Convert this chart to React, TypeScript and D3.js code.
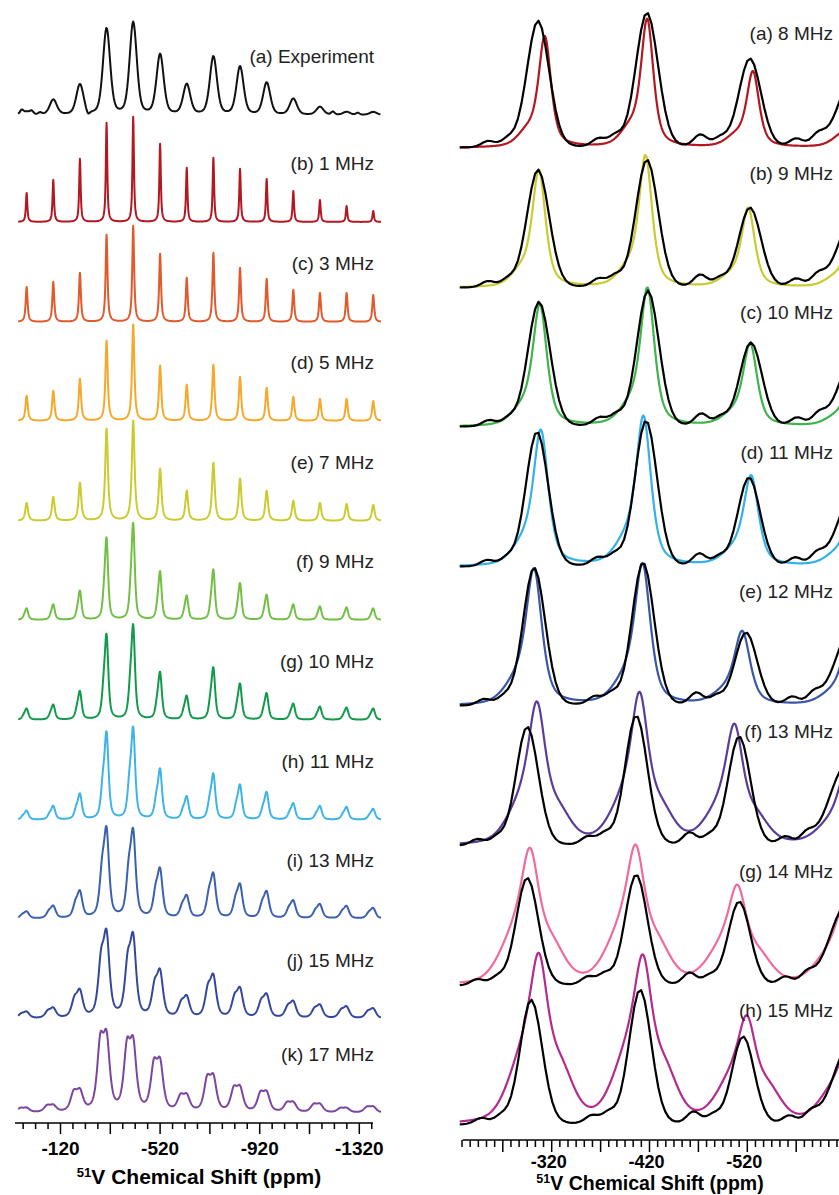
import React from "react";
import * as d3 from "d3";

// ---------------- LEFT PANEL DATA ----------------
const leftPeakPpm = [16, -91, -198, -305, -412, -520, -627, -734, -841, -948, -1055, -1162, -1269, -1376];
const leftNames = ["(a) Experiment", "(b) 1 MHz", "(c) 3 MHz", "(d) 5 MHz", "(e) 7 MHz", "(f) 9 MHz", "(g) 10 MHz", "(h) 11 MHz", "(i) 13 MHz", "(j) 15 MHz", "(k) 17 MHz"];
const expIntensity = [3, 15, 30, 86, 92, 60, 30, 58, 48, 32, 16, 8, 3, 3];
const expExtraPpm = [36, -4, -38, -230, -1214, -1314];
const expExtraIntensity = [4, 3, 2, -4, 3, 2];
const sim1 = [29, 42, 63, 99, 105, 78, 54, 64, 53, 43, 31, 22, 16, 11];
const sim3 = [35, 40, 49, 87, 96, 68, 44, 69, 54, 43, 32, 29, 29, 27];
const sim5 = [25, 30, 42, 80, 96, 55, 36, 56, 44, 33, 24, 22, 22, 20];
const sim7 = [18, 24, 38, 92, 100, 52, 30, 58, 42, 30, 20, 18, 17, 16];
const sim9 = [12, 16, 30, 85, 100, 50, 25, 52, 38, 26, 16, 14, 13, 12];
const sim10 = [12, 16, 30, 90, 100, 50, 25, 55, 38, 28, 17, 14, 13, 12];
const sim11 = [10, 15, 28, 95, 100, 55, 25, 50, 38, 30, 18, 15, 14, 12];
const sim13 = [8, 14, 30, 100, 98, 55, 25, 50, 38, 30, 20, 16, 14, 12];
const sim15 = [8, 12, 32, 100, 96, 55, 25, 50, 35, 28, 20, 16, 14, 12];
const sim17 = [6, 9, 27, 98, 90, 65, 21, 46, 32, 26, 13, 11, 6, 8];
const leftSims = [sim1, sim3, sim5, sim7, sim9, sim10, sim11, sim13, sim15, sim17];
const leftFwhmPpm = [34, 7, 9, 11, 13, 15, 17, 19, 24, 28, 30];
const leftShoulderOffsetPpm = [0, 0, 0, 0, 0, 10, 12, 15, 18, 22, 25];
const leftShoulderRatio = [0, 0, 0, 0, 0, 0.2, 0.25, 0.3, 0.4, 0.5, 0.65];
const leftTickLabels = [-120, -520, -920, -1320];

// ---------------- RIGHT PANEL DATA ----------------
const rightNames = ["(a) 8 MHz", "(b) 9 MHz", "(c) 10 MHz", "(d) 11 MHz", "(e) 12 MHz", "(f) 13 MHz", "(g) 14 MHz", "(h) 15 MHz"];
const rightSimPpm = [
  [-313, -417.7, -525.8, -634],
  [-307, -416, -521, -628],
  [-308, -418, -523, -630],
  [-309, -414, -524, -630],
  [-302, -413, -515, -625],
  [-305, -410, -507, -622],
  [-298, -406, -510, -620],
  [-307, -413.4, -519.7, -625],
];
const rightSimIntensity = [
  [117, 135, 80, 75],
  [123, 138, 83, 70],
  [127, 144, 86, 70],
  [140, 154, 93, 75],
  [139, 144, 75, 70],
  [131, 139, 110, 70],
  [116, 118, 84, 70],
  [140, 138, 88, 70],
];
const rightSimFwhmPpm = [15, 16, 17, 18, 19, 21, 22, 22];
const rightSimShoulderRatio = [0.12, 0.12, 0.12, 0.14, 0.15, 0.25, 0.35, 0.4];
const rightExpShiftPpm = [0, 0, -1, 1, 4, 11, 11, 7];
const rightExpIntensity = [
  [127, 135, 89, 80],
  [118, 128, 80, 80],
  [125, 136, 84, 80],
  [135, 146, 89, 80],
  [138, 143, 73, 80],
  [119, 130, 109, 80],
  [108, 111, 84, 80],
  [125, 135, 88, 80],
];
const expPeakPpm = [-306, -417.4, -522.7, -632];
const expBumpPpm = [-255, -275, -368, -385, -472, -492, -570, -592];
const expBumpIntensity = [6, 7, 8, 10, 12, 8, 8, 10];
const rightTickLabels = [-320, -420, -520];

// ---------------- STYLE / LAYOUT ----------------
const leftColors = ["#111111", "#b3171f", "#e05a2b", "#f5a82a", "#c9cb2f", "#72bf45", "#119a4b", "#3cb4e6", "#3a60b0", "#33479b", "#7c45a0"];
const rightColors = ["#b3171f", "#c9cb2f", "#3db54a", "#32b2e8", "#3a57a8", "#5a3d9a", "#f06aa0", "#b42a8f"];
const leftBase = [115, 222, 322, 421, 521, 620, 720, 820, 919, 1019, 1113];
const rightBase = [148, 288, 427, 567, 706, 846, 986, 1125];
const FONT = "'Liberation Sans', Arial, Helvetica, sans-serif";

function pv(x: number, c: number, w: number, eta: number) {
  const t = (x - c) / (w / 2);
  return eta / (1 + t * t) + (1 - eta) * Math.exp(-Math.LN2 * t * t);
}
type Comp = [number, number, number, number];
function spectrum(grid: number[], comps: Comp[]): [number, number][] {
  return grid.map((p) => {
    let s = 0;
    for (const [c, h, w, e] of comps) s += h * pv(p, c, w, e);
    return [p, s];
  });
}

export default function App() {
  const xL = d3.scaleLinear().domain([-120, -1320]).range([60.5, 359.3]);
  const xR = d3.scaleLinear().domain([-320, -520]).range([551.7, 747.3]);
  const gridL = d3.range(50, -1408, -1);
  const gridLexp = d3.range(50, -1408, -3);
  const gridR = d3.range(-226, -680, -0.5);
  const gridRexp = d3.range(-226, -680, -3.5);

  const leftPaths: { d: string; color: string }[] = [];
  for (let i = 0; i < leftNames.length; i++) {
    const y = d3.scaleLinear().domain([0, 100]).range([leftBase[i], leftBase[i] - 100]);
    let comps: Comp[] = [];
    if (i === 0) {
      comps = leftPeakPpm.map((p, k) => [p, expIntensity[k], leftFwhmPpm[0], 0.35] as Comp);
      expExtraPpm.forEach((p, k) => comps.push([p, expExtraIntensity[k], 16, 0.2]));
    } else {
      const h = leftSims[i - 1];
      const eta = i < 5 ? 0.85 : 0.6;
      comps = leftPeakPpm.map((p, k) => [p, h[k] * (1 - leftShoulderRatio[i] * 0.5), leftFwhmPpm[i], eta] as Comp);
      if (leftShoulderRatio[i] > 0)
        leftPeakPpm.forEach((p, k) => comps.push([p + leftShoulderOffsetPpm[i], h[k] * leftShoulderRatio[i], leftFwhmPpm[i], eta]));
    }
    const data = spectrum(i === 0 ? gridLexp : gridL, comps);
    const line = d3.line<[number, number]>().x((d) => xL(d[0])).y((d) => y(d[1]));
    leftPaths.push({ d: line(data) || "", color: leftColors[i] });
  }

  const rightPaths: { d: string; color: string }[] = [];
  for (let i = 0; i < rightNames.length; i++) {
    const y = d3.scaleLinear().domain([0, 100]).range([rightBase[i], rightBase[i] - 100]);
    const w = rightSimFwhmPpm[i];
    const sc: Comp[] = [];
    rightSimPpm[i].forEach((p, k) => {
      const h = rightSimIntensity[i][k];
      sc.push([p, h * 0.92, w, 0.6]);
      sc.push([p + 17, h * rightSimShoulderRatio[i], w * 1.6, 0.3]);
      if (i >= 5) sc.push([p - 22, h * rightSimShoulderRatio[i] * 0.8, w * 1.4, 0.3]);
    });
    const simD = d3.line<[number, number]>().x((d) => xR(d[0])).y((d) => y(d[1]))(spectrum(gridR, sc)) || "";
    const ec: Comp[] = [];
    expPeakPpm.forEach((p, k) => ec.push([p + rightExpShiftPpm[i], rightExpIntensity[i][k], k === 3 ? 40 : 27, 0.1]));
    expBumpPpm.forEach((p, k) => ec.push([p + rightExpShiftPpm[i], expBumpIntensity[k], 16, 0.1]));
    const expD = d3.line<[number, number]>().x((d) => xR(d[0])).y((d) => y(d[1]))(spectrum(gridRexp, ec)) || "";
    rightPaths.push({ d: simD, color: rightColors[i] });
    rightPaths.push({ d: expD, color: "#000" });
  }

  const ticksL = d3.range(30, -1371, -50);
  const ticksR = d3.range(-320 + 11 * (50 / 6), -720, -50 / 6);
  const axisYL = 1123;
  const axisYR = 1140;

  return (
    <div style={{ position: "absolute", left: 0, top: 0 }}>
      <svg width={839} height={1195} style={{ display: "block", background: "#fff" }} fontFamily={FONT}>
        <rect x={0} y={0} width={839} height={1195} fill="#fff" />
        {leftPaths.map((p, i) => (
          <path key={"l" + i} d={p.d} fill="none" stroke={p.color} strokeWidth={2} strokeLinejoin="round" />
        ))}
        {leftNames.map((t, i) => (
          <text key={"lt" + i} x={374} y={leftBase[i] - 52} textAnchor="end" fontSize={19} fill="#222">{t}</text>
        ))}
        <line x1={15} x2={373} y1={axisYL} y2={axisYL} stroke="#000" strokeWidth={1.5} />
        {ticksL.map((t) => {
          const major = Math.abs((t + 120) % 200) < 1e-6;
          return <line key={"tl" + t} x1={xL(t)} x2={xL(t)} y1={axisYL} y2={axisYL + (major ? 11 : 6)} stroke="#000" strokeWidth={1.5} />;
        })}
        {leftTickLabels.map((t) => (
          <text key={"ll" + t} x={xL(t)} y={1155} textAnchor="middle" fontSize={19} fontWeight="bold">{t}</text>
        ))}
        <text x={199} y={1184} textAnchor="middle" fontSize={21} fontWeight="bold">
          <tspan fontSize={13} dy={-7}>51</tspan>
          <tspan dy={7}>V Chemical Shift (ppm)</tspan>
        </text>

        {rightPaths.map((p, i) => (
          <path key={"r" + i} d={p.d} fill="none" stroke={p.color} strokeWidth={2.2} strokeLinejoin="round" />
        ))}
        {rightNames.map((t, i) => (
          <text key={"rt" + i} x={833} y={rightBase[i] - 108} textAnchor="end" fontSize={19} fill="#222">{t}</text>
        ))}
        <line x1={462.7} x2={839} y1={axisYR} y2={axisYR} stroke="#000" strokeWidth={1.5} />
        {ticksR.map((t, k) => {
          const major = k % 6 === 5;
          return <line key={"tr" + k} x1={xR(t)} x2={xR(t)} y1={axisYR} y2={axisYR + (major ? 12 : 7)} stroke="#000" strokeWidth={1.5} />;
        })}
        {rightTickLabels.map((t) => (
          <text key={"rl" + t} x={xR(t) - 3} y={1168} textAnchor="middle" fontSize={18} fontWeight="bold">{t}</text>
        ))}
        <text x={650} y={1190} textAnchor="middle" fontSize={19.5} fontWeight="bold">
          <tspan fontSize={12.5} dy={-7}>51</tspan>
          <tspan dy={7}>V Chemical Shift (ppm)</tspan>
        </text>
      </svg>
    </div>
  );
}
